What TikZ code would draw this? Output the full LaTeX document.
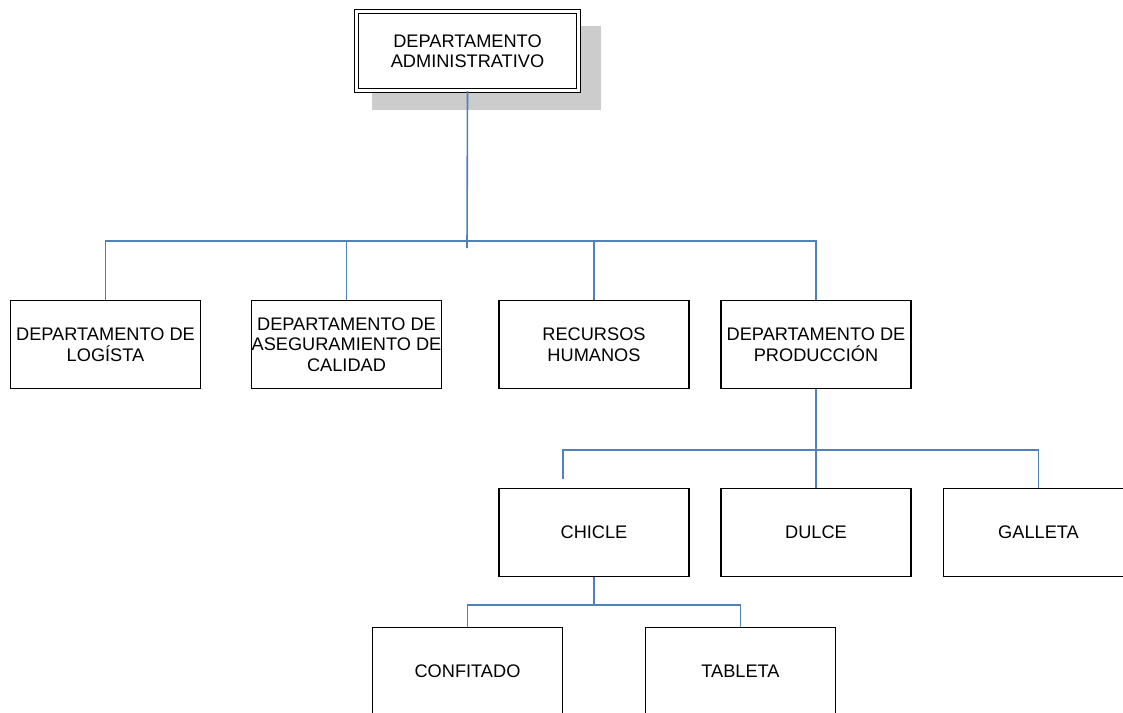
\documentclass[tikz,border=0pt]{standalone}
\usepackage{fontspec}
\setmainfont{Liberation Sans}
\definecolor{linkblue}{HTML}{4F81BD}
\definecolor{shadegray}{HTML}{CCCCCC}
\begin{document}
\begin{tikzpicture}[x=1pt,y=-1pt,
  box/.style={draw=black, line width=1.6pt, fill=white, minimum width=190pt, minimum height=88pt,
              inner sep=0pt, align=center, font=\fontsize{18.2}{20.5}\selectfont},
  link/.style={draw=linkblue, line width=1.6pt}]
\useasboundingbox (0,0) rectangle (1123,712);
\clip (0,0) rectangle (1123,712);
% shadow of top box
\fill[shadegray] (372,26) rectangle (601,110);
% nodes
\node[box, double, double distance=2.3pt, line width=1.5pt, minimum width=222pt, minimum height=79pt] (top) at (467.5,51) {DEPARTAMENTO\\ADMINISTRATIVO};
\node[box] (log)  at (105.5,344.5) {DEPARTAMENTO DE\\LOGÍSTA};
\node[box] (ase)  at (346.5,344.5) {DEPARTAMENTO DE\\ASEGURAMIENTO DE\\CALIDAD};
\node[box] (rrhh) at (594,344.5) {RECURSOS\\HUMANOS};
\node[box] (prod) at (816,344.5) {DEPARTAMENTO DE\\PRODUCCIÓN};
\node[box] (chicle)  at (594,532.5) {CHICLE};
\node[box] (dulce)   at (816,532.5) {DULCE};
\node[box] (galleta) at (1038.5,532.5) {GALLETA};
\node[box] (conf) at (467.5,671.5) {CONFITADO};
\node[box] (tab)  at (740.5,671.5) {TABLETA};
% connector coordinates
\coordinate (b1) at (467,241);
\coordinate (j1) at (467,248);
\coordinate (b2) at (817,450);
\coordinate (c2) at (563,479);
\coordinate (b3) at (594,605);
% level 1
\draw[link] (top.south) -- (j1);
\draw[link] (log.north) -- (log.north |- b1) -- (prod.north |- b1) -- (prod.north);
\draw[link] (ase.north) -- (ase.north |- b1);
\draw[link] (rrhh.north) -- (rrhh.north |- b1);
% level 2
\draw[link] (prod.south) -- (dulce.north);
\draw[link] (c2) -- (c2 |- b2) -- (galleta.north |- b2) -- (galleta.north);
% level 3
\draw[link] (chicle.south) -- (b3);
\draw[link] (conf.north) -- (conf.north |- b3) -- (tab.north |- b3) -- (tab.north);
\end{tikzpicture}
\end{document}
